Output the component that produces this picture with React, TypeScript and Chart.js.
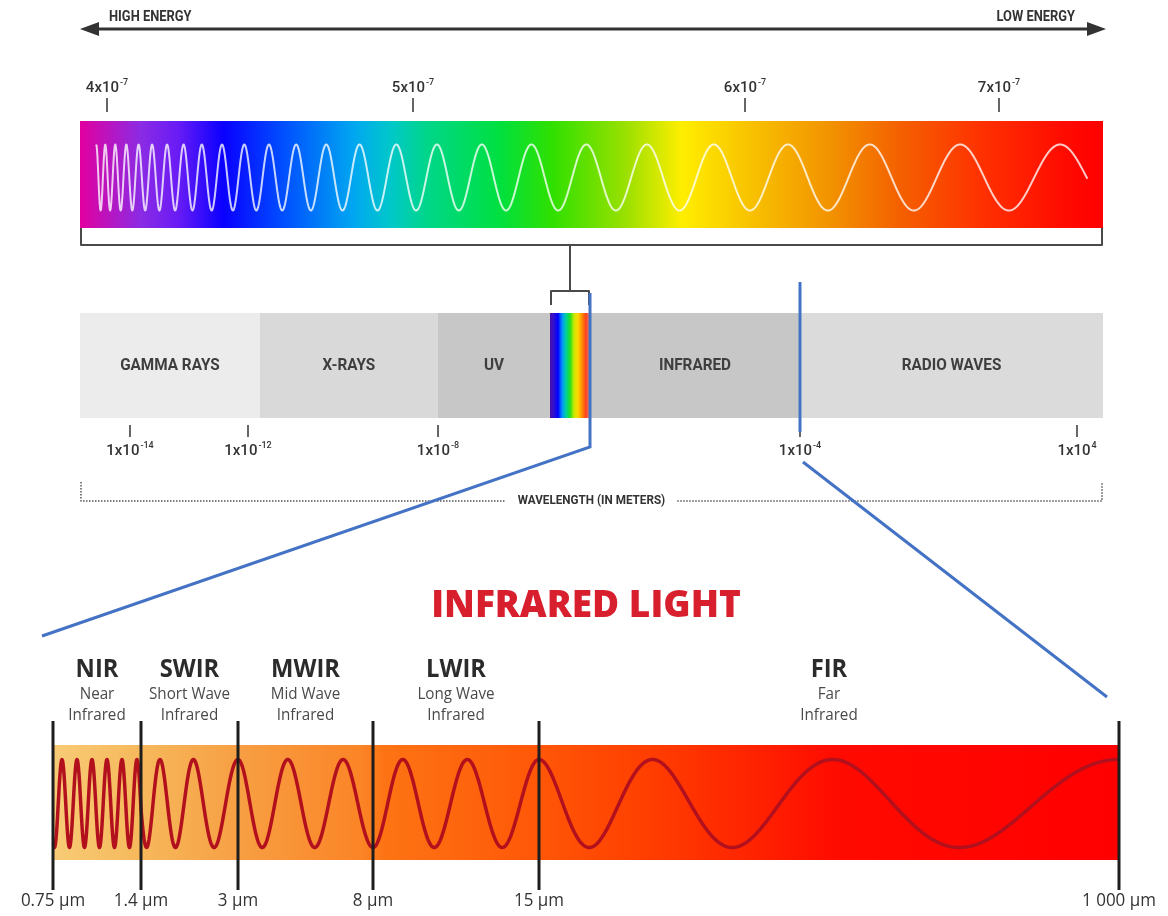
import React, { useEffect, useRef } from 'react';
import { Chart, LinearScale, registerables } from 'chart.js';

const W = 1168;
const H = 916;

// ================= DATA =================
// Top row: visible light (wavelength in nm)
const visibleSpan = [390, 740];
const visibleTicks = [400, 500, 600, 700];
const visibleTickMantissa = ['4x10', '5x10', '6x10', '7x10'];
const visibleTickExponent = ['-7', '-7', '-7', '-7'];
const energyLabels = ['HIGH ENERGY', 'LOW ENERGY'];

// Middle row: electromagnetic spectrum (log10 of wavelength in m)
const emBandNames = ['GAMMA RAYS', 'X-RAYS', 'UV', '', 'INFRARED', 'RADIO WAVES'];
const emBandFrom = [-14.85, -11.75, -8, -6.4, -6.12, -4];
const emBandTo = [-11.75, -8, -6.4, -6.12, -4, 4.75];
const emTicks = [-14, -12, -8, -4, 4];
const emTickMantissa = ['1x10', '1x10', '1x10', '1x10', '1x10'];
const emTickExponent = ['-14', '-12', '-8', '-4', '4'];
const emAxisTitle = 'WAVELENGTH (IN METERS)';

// Bottom row: infrared sub-bands (wavelength in µm)
const irTitle = 'INFRARED LIGHT';
const irBandCodes = ['NIR', 'SWIR', 'MWIR', 'LWIR', 'FIR'];
const irBandNameTop = ['Near', 'Short Wave', 'Mid Wave', 'Long Wave', 'Far'];
const irBandNameBottom = ['Infrared', 'Infrared', 'Infrared', 'Infrared', 'Infrared'];
const irBoundaries = [0.75, 1.4, 3, 8, 15, 1000];
const irTickLabels = ['0.75 µm', '1.4 µm', '3 µm', '8 µm', '15 µm', '1 000 µm'];
const irWaveCycles = [5.87, 2.73, 2.5, 2.5, 3];

// ================= STYLE / LAYOUT =================
// Non-uniform (illustrative, not to scale) axes: value -> pixel anchors
const SCALE_ANCHORS: Record<string, number[][]> = {
  vis: [[390, 80], [400, 107], [500, 413], [600, 745], [700, 999], [740, 1103]],
  em: [[-14.85, 80], [-14, 130], [-12, 248], [-8, 438], [-6.4, 550], [-6.12, 590], [-4, 800], [4, 1077], [4.75, 1103]],
  ir: [[0.75, 53], [1.4, 141], [3, 238], [8, 373], [15, 539], [1000, 1119]],
};

const LAY = {
  arrowY: 29, energyY: 17,
  visTickLabelY: 88, visTickTop: 98, visTickBottom: 112,
  visTop: 121, visBottom: 228, bracketY: 245,
  connTop: 291, connLeg: 305,
  emTop: 313, emBottom: 418, emLabelY: 366,
  emTickTop: 425, emTickBottom: 437, emTickLabelY: 451,
  axisY: 501, axisTop: 482,
  titleY: 606,
  irCodeY: 670, irLine1Y: 694, irLine2Y: 715,
  irLineTop: 721, irTop: 745, irBottom: 860, irLineBottom: 890, irTickLabelY: 901,
};

const visStopsNm = [390, 411, 423, 438, 458, 481, 493, 504, 526, 542, 564, 581, 602, 635, 661, 694, 726, 740];
const visStopColors = ['#e2009f', '#8b2be4', '#6a1cf5', '#0a00ff', '#0050ff', '#00a8f0', '#00c8c8', '#00d68a', '#00e040',
  '#30e000', '#9ae000', '#ffee00', '#f8c200', '#f29000', '#f46000', '#ff3000', '#ff0a00', '#ff0000'];
const emBandColors = ['#ececec', '#d9d9d9', '#c7c7c7', '', '#c7c7c7', '#dbdbdb'];
const emVisibleColors = ['#4a10a8', '#3010d0', '#0000ff', '#0090ff', '#00d0a0', '#20e020', '#c8e800', '#ffd800', '#ff8c00', '#ff4020', '#f08a78'];
const irGradient: [number, string][] = [[0, '#f8cb76'], [0.08, '#f6b95c'], [0.17, '#f7a044'], [0.29, '#fb8426'], [0.31, '#fd7414'],
  [0.45, '#ff5808'], [0.55, '#ff4000'], [0.66, '#ff2200'], [0.74, '#ff0a00'], [1, '#ff0000']];
const irWaveChirp = [0, 1.2, 0.3, 0.3, 3];

const CONDENSED = 'Roboto, "DejaVu Sans", sans-serif';
const SANS = '"Open Sans", "Noto Sans", sans-serif';

// ================= SCALE =================
class PiecewiseScale extends LinearScale {
  static id = 'piecewise';
  static defaults = LinearScale.defaults;
  getPixelForValue(value: number) {
    const a = SCALE_ANCHORS[(this as any).id];
    let i = 0;
    while (i < a.length - 2 && value > a[i + 1][0]) i++;
    const [v0, p0] = a[i];
    const [v1, p1] = a[i + 1];
    const px = p0 + ((value - v0) / (v1 - v0)) * (p1 - p0);
    return (this as any).getPixelForDecimal(px / W);
  }
}

Chart.register(...registerables, PiecewiseScale as any);

// ================= DRAW HELPERS =================
function txt(ctx: CanvasRenderingContext2D, s: string, x: number, y: number, font: string, color: string, align: CanvasTextAlign = 'center', sx = 1) {
  ctx.save();
  ctx.font = font;
  ctx.fillStyle = color;
  ctx.textAlign = align;
  ctx.textBaseline = 'middle';
  ctx.translate(x, y);
  ctx.scale(sx, 1);
  ctx.fillText(s, 0, 0);
  ctx.restore();
}

function supTxt(ctx: CanvasRenderingContext2D, base: string, exp: string, cx: number, cy: number, size: number, weight: string, color: string) {
  ctx.save();
  const bf = `${weight} ${size}px ${CONDENSED}`;
  const ef = `${weight} ${Math.round(size * 0.6)}px ${CONDENSED}`;
  ctx.font = bf;
  const wb = ctx.measureText(base).width;
  ctx.font = ef;
  const we = ctx.measureText(exp).width;
  const x0 = cx - (wb + we + 1) / 2;
  ctx.fillStyle = color;
  ctx.textBaseline = 'middle';
  ctx.textAlign = 'left';
  ctx.font = bf;
  ctx.fillText(base, x0, cy);
  ctx.font = ef;
  ctx.fillText(exp, x0 + wb + 1, cy - size * 0.38);
  ctx.restore();
}

function seg(ctx: CanvasRenderingContext2D, pts: number[][]) {
  ctx.beginPath();
  ctx.moveTo(pts[0][0], pts[0][1]);
  for (let i = 1; i < pts.length; i++) ctx.lineTo(pts[i][0], pts[i][1]);
  ctx.stroke();
}

const infographic = {
  id: 'infographic',
  beforeDraw(chart: any) {
    const ctx = chart.ctx;
    ctx.save();
    ctx.fillStyle = '#ffffff';
    ctx.fillRect(0, 0, chart.width, chart.height);
    ctx.restore();
  },
  afterDraw(chart: any) {
    const ctx: CanvasRenderingContext2D = chart.ctx;
    const vis = chart.scales.vis;
    const em = chart.scales.em;
    const ir = chart.scales.ir;
    ctx.save();
    ctx.lineCap = 'butt';

    // ---------- energy arrow ----------
    const vx0 = vis.getPixelForValue(visibleSpan[0]);
    const vx1 = vis.getPixelForValue(visibleSpan[1]);
    ctx.strokeStyle = '#333';
    ctx.fillStyle = '#333';
    ctx.lineWidth = 3;
    seg(ctx, [[vx0 + 10, LAY.arrowY], [vx1 - 8, LAY.arrowY]]);
    ctx.beginPath();
    ctx.moveTo(vx0, LAY.arrowY);
    ctx.lineTo(vx0 + 19, LAY.arrowY - 7);
    ctx.lineTo(vx0 + 19, LAY.arrowY + 7);
    ctx.closePath();
    ctx.fill();
    ctx.beginPath();
    ctx.moveTo(vx1 + 3, LAY.arrowY);
    ctx.lineTo(vx1 - 16, LAY.arrowY - 7);
    ctx.lineTo(vx1 - 16, LAY.arrowY + 7);
    ctx.closePath();
    ctx.fill();
    txt(ctx, energyLabels[0], vx0 + 29, LAY.energyY, `bold 14px ${CONDENSED}`, '#333', 'left', 0.92);
    txt(ctx, energyLabels[1], vx1 - 28, LAY.energyY, `bold 14px ${CONDENSED}`, '#333', 'right', 0.92);

    // ---------- visible ticks ----------
    ctx.lineWidth = 1.5;
    ctx.strokeStyle = '#333';
    visibleTicks.forEach((v, i) => {
      const x = vis.getPixelForValue(v);
      seg(ctx, [[x, LAY.visTickTop], [x, LAY.visTickBottom]]);
      supTxt(ctx, visibleTickMantissa[i], visibleTickExponent[i], x, LAY.visTickLabelY, 15, '500', '#333');
    });

    // ---------- visible rainbow bar ----------
    const g = ctx.createLinearGradient(vx0, 0, vx1, 0);
    visStopsNm.forEach((nm, i) => {
      const f = (vis.getPixelForValue(nm) - vx0) / (vx1 - vx0);
      g.addColorStop(Math.min(1, Math.max(0, f)), visStopColors[i]);
    });
    ctx.fillStyle = g;
    ctx.fillRect(vx0, LAY.visTop, vx1 - vx0, LAY.visBottom - LAY.visTop);

    // chirped white wave
    const wx0 = vis.getPixelForValue(396);
    const wx1 = vis.getPixelForValue(734);
    const wcy = (LAY.visTop + LAY.visBottom) / 2 + 3;
    const wamp = 33;
    ctx.strokeStyle = 'rgba(255,255,255,0.78)';
    ctx.lineWidth = 2;
    ctx.lineJoin = 'round';
    ctx.beginPath();
    for (let x = wx0; x <= wx1; x += 0.4) {
      const cyc = 10 * Math.log((x - 10) / (wx0 - 10));
      const y = wcy - wamp * Math.cos(2 * Math.PI * cyc);
      if (x === wx0) ctx.moveTo(x, y); else ctx.lineTo(x, y);
    }
    ctx.stroke();

    // bracket under rainbow + connector to visible strip
    ctx.strokeStyle = '#4a4a4a';
    ctx.lineWidth = 2;
    seg(ctx, [[vx0 + 1, LAY.visBottom], [vx0 + 1, LAY.bracketY], [vx1 - 1, LAY.bracketY], [vx1 - 1, LAY.visBottom]]);
    const sFrom = em.getPixelForValue(emBandFrom[3]);
    const sTo = em.getPixelForValue(emBandTo[3]);
    const sMid = em.getPixelForValue((emBandFrom[3] + emBandTo[3]) / 2);
    seg(ctx, [[sMid, LAY.bracketY], [sMid, LAY.connTop]]);
    seg(ctx, [[sFrom + 1, LAY.connLeg], [sFrom + 1, LAY.connTop], [sTo - 1, LAY.connTop], [sTo - 1, LAY.connLeg]]);

    // ---------- EM spectrum bands ----------
    emBandNames.forEach((name, i) => {
      const x0 = em.getPixelForValue(emBandFrom[i]);
      const x1 = em.getPixelForValue(emBandTo[i]);
      if (emBandColors[i]) {
        ctx.fillStyle = emBandColors[i];
      } else {
        const sg = ctx.createLinearGradient(x0, 0, x1, 0);
        emVisibleColors.forEach((c, k) => sg.addColorStop(k / (emVisibleColors.length - 1), c));
        ctx.fillStyle = sg;
      }
      ctx.fillRect(x0, LAY.emTop, x1 - x0, LAY.emBottom - LAY.emTop);
    });
    emBandNames.forEach((name, i) => {
      if (!name) return;
      const x0 = em.getPixelForValue(emBandFrom[i]);
      const x1 = em.getPixelForValue(emBandTo[i]);
      txt(ctx, name, (x0 + x1) / 2, LAY.emLabelY, `bold 17px ${CONDENSED}`, '#3e3e3e', 'center', 0.9);
    });

    // EM ticks
    ctx.strokeStyle = '#333';
    ctx.lineWidth = 1.5;
    emTicks.forEach((v, i) => {
      const x = em.getPixelForValue(v);
      seg(ctx, [[x, LAY.emTickTop], [x, LAY.emTickBottom]]);
      supTxt(ctx, emTickMantissa[i], emTickExponent[i], x, LAY.emTickLabelY, 15, '500', '#333');
    });

    // wavelength dotted axis
    const ax0 = em.getPixelForValue(emBandFrom[0]);
    const ax1 = em.getPixelForValue(emBandTo[emBandTo.length - 1]);
    const axMid = (ax0 + ax1) / 2;
    ctx.save();
    ctx.font = `bold 13px ${CONDENSED}`;
    const tw = ctx.measureText(emAxisTitle).width * 0.9;
    ctx.restore();
    ctx.strokeStyle = '#555';
    ctx.lineWidth = 1.5;
    ctx.setLineDash([1.5, 1.5]);
    seg(ctx, [[ax0 + 1, LAY.axisTop], [ax0 + 1, LAY.axisY], [axMid - tw / 2 - 12, LAY.axisY]]);
    seg(ctx, [[axMid + tw / 2 + 12, LAY.axisY], [ax1 - 1, LAY.axisY], [ax1 - 1, LAY.axisTop]]);
    ctx.setLineDash([]);
    txt(ctx, emAxisTitle, axMid, LAY.axisY, `bold 13px ${CONDENSED}`, '#333', 'center', 0.9);

    // ---------- INFRARED section ----------
    const ix0 = ir.getPixelForValue(irBoundaries[0]);
    const ix1 = ir.getPixelForValue(irBoundaries[irBoundaries.length - 1]);
    // title fitted to its width
    ctx.save();
    ctx.font = `800 32px ${SANS}`;
    const tW = ctx.measureText(irTitle).width;
    ctx.restore();
    const tSize = 32 * 310 / tW;
    txt(ctx, irTitle, (ix0 + ix1) / 2, LAY.titleY, `800 ${tSize.toFixed(1)}px ${SANS}`, '#d81f2d');

    irBandCodes.forEach((code, i) => {
      const cx = (ir.getPixelForValue(irBoundaries[i]) + ir.getPixelForValue(irBoundaries[i + 1])) / 2;
      txt(ctx, code, cx, LAY.irCodeY, `bold 25px ${SANS}`, '#2b2b2b', 'center', 0.95);
      txt(ctx, irBandNameTop[i], cx, LAY.irLine1Y, `16px ${SANS}`, '#4a4a4a', 'center', 0.95);
      txt(ctx, irBandNameBottom[i], cx, LAY.irLine2Y, `16px ${SANS}`, '#4a4a4a', 'center', 0.95);
    });

    const ig = ctx.createLinearGradient(ix0, 0, ix1, 0);
    irGradient.forEach(([f, c]) => ig.addColorStop(f, c));
    ctx.fillStyle = ig;
    ctx.fillRect(ix0, LAY.irTop, ix1 - ix0, LAY.irBottom - LAY.irTop);

    // dark red chirped wave
    const icy = (LAY.irTop + LAY.irBottom) / 2 + 1;
    const iamp = 44;
    ctx.strokeStyle = '#b3101e';
    ctx.lineWidth = 3.5;
    ctx.lineJoin = 'round';
    ctx.beginPath();
    let phase = -0.6;
    let first = true;
    irWaveCycles.forEach((cyc, i) => {
      const xa = ir.getPixelForValue(irBoundaries[i]);
      const xb = ir.getPixelForValue(irBoundaries[i + 1]);
      const a = irWaveChirp[i];
      for (let x = xa; x <= xb; x += 0.5) {
        const t = (x - xa) / (xb - xa);
        const f = a > 0 ? Math.log(1 + a * t) / Math.log(1 + a) : t;
        const y = icy - iamp * Math.cos(2 * Math.PI * (phase + cyc * f));
        if (first) { ctx.moveTo(x + 3, y); first = false; } else ctx.lineTo(x, y);
      }
      phase += cyc;
    });
    ctx.stroke();

    // boundary lines + tick labels
    ctx.strokeStyle = '#1d1d1d';
    ctx.lineWidth = 3;
    irBoundaries.forEach((v, i) => {
      const x = ir.getPixelForValue(v);
      seg(ctx, [[x, LAY.irLineTop], [x, LAY.irLineBottom]]);
      txt(ctx, irTickLabels[i], x, LAY.irTickLabelY, `17.5px ${SANS}`, '#333', 'center', 0.97);
    });

    // ---------- blue zoom lines ----------
    ctx.strokeStyle = '#4472c4';
    ctx.lineWidth = 3;
    ctx.lineJoin = 'miter';
    const irStartX = em.getPixelForValue(emBandFrom[4]);
    const irEndX = em.getPixelForValue(emTicks[3]);
    seg(ctx, [[irStartX, 293], [irStartX, 447], [ix0 - 11, 636]]);
    seg(ctx, [[irEndX, 282], [irEndX, 432]]);
    seg(ctx, [[irEndX + 3, 462], [ix1 - 12, 697]]);

    ctx.restore();
  },
};

export default function App() {
  const ref = useRef<HTMLCanvasElement>(null);
  useEffect(() => {
    document.body.style.margin = '0';
    const axis = (id: string) => {
      const a = SCALE_ANCHORS[id];
      return { type: 'piecewise', axis: 'x', display: false, min: a[0][0], max: a[a.length - 1][0] };
    };
    const chart = new Chart(ref.current as HTMLCanvasElement, {
      type: 'bar',
      data: { labels: [], datasets: [] },
      options: {
        responsive: false,
        animation: false,
        events: [],
        layout: { padding: 0 },
        plugins: { legend: { display: false }, tooltip: { enabled: false } },
        scales: {
          vis: axis('vis'),
          em: axis('em'),
          ir: axis('ir'),
          y: { type: 'linear', display: false, min: 0, max: H, reverse: true },
        },
      } as any,
      plugins: [infographic as any],
    });
    return () => chart.destroy();
  }, []);
  return (
    <div style={{ position: 'absolute', left: 0, top: 0 }}>
      <canvas ref={ref} width={W} height={H} style={{ display: 'block', width: W, height: H }} />
    </div>
  );
}
